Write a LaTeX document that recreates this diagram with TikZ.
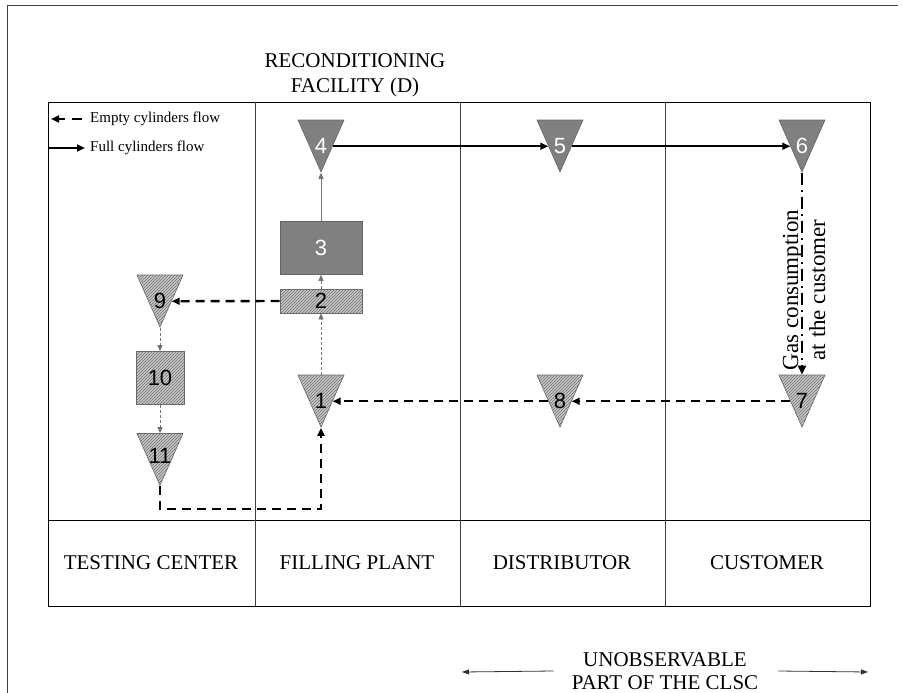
\documentclass[tikz,border=0pt]{standalone}
\usepackage{fontspec}
\setmainfont{Liberation Serif}
\newfontfamily\numfont{Liberation Sans}
\usetikzlibrary{positioning,shapes.geometric,arrows.meta,patterns}
\definecolor{ink}    {HTML}{000000}
\definecolor{darkbox}{HTML}{808080}
\definecolor{lightbox}{HTML}{C8C8C8}
\definecolor{hatch}  {HTML}{707070}
\definecolor{rule}   {HTML}{404040}
% number of a stock point, set lower in the triangle, box of no size
\newcommand\stocknum[1]{\raisebox{\dimexpr-\height/2-15pt\relax}[0pt][0pt]{#1}}
\tikzset{
  >=Triangle,
  % --- nodes
  stock/.style   = {isosceles triangle, isosceles triangle stretches,
                    shape border rotate=270, minimum width=46, minimum height=52,
                    inner sep=0pt, draw=ink!60, line width=0.6pt,
                    font=\numfont\fontsize{22}{24}\selectfont},
  fullstock/.style = {stock, fill=darkbox, text=white},
  emptystock/.style= {stock, fill=lightbox,
                      postaction={pattern=north east lines, pattern color=hatch}},
  proc/.style    = {rectangle, inner sep=0pt, draw=ink!60, line width=0.6pt,
                    font=\numfont\fontsize{22}{24}\selectfont},
  fullproc/.style  = {proc, fill=darkbox, text=white},
  emptyproc/.style = {proc, fill=lightbox,
                      postaction={pattern=north east lines, pattern color=hatch}},
  caps/.style    = {font=\fontsize{21}{24}\selectfont, align=center, inner sep=0pt},
  legend/.style  = {font=\fontsize{15}{18}\selectfont, anchor=west, inner sep=0pt},
  % --- edges
  full/.style    = {-{Triangle[length=8,width=7]}, line width=2.2pt, draw=ink},
  empty/.style   = {-{Triangle[length=8,width=7]}, line width=2.4pt, draw=ink,
                    dash pattern=on 9pt off 6pt},
  consume/.style = {-{Triangle[length=9,width=8]}, line width=2.6pt, draw=ink,
                    dash pattern=on 12pt off 5pt on 2pt off 5pt},
  minor/.style   = {-{Triangle[length=6,width=5]}, line width=0.9pt, draw=ink!55,
                    dash pattern=on 3pt off 2pt},
  thin/.style    = {-{Triangle[length=6,width=5]}, line width=0.9pt, draw=ink!55},
  span/.style    = {-{Triangle[length=7,width=5]}, line width=0.8pt, draw=ink!80},
}
\begin{document}
\begin{tikzpicture}[x=1pt,y=-1pt]
  \useasboundingbox (0,0) rectangle (903,693);
  % frame and table
  \draw[line width=0.8pt, draw=rule] (7,693) -- (7,5) -- (898,5);
  \draw[line width=0.7pt] (48,102) rectangle (870,606);
  \draw[line width=0.7pt] (48,520) -- (870,520);
  \foreach \x in {255,460,665}
    \draw[line width=0.7pt, draw=ink!75] (\x,102) -- (\x,606);

  \node[caps, font=\fontsize{21}{25}\selectfont] (recon) at (355,75) {RECONDITIONING\\FACILITY (D)};
  \node[caps] (testing) at (151,563) {TESTING CENTER};
  \node[caps] (filling) at (357,563) {FILLING PLANT};
  \node[caps] (distrib) at (562,563) {DISTRIBUTOR};
  \node[caps] (customer) at (767,563) {CUSTOMER};
  \node[caps, font=\fontsize{21}{23}\selectfont] (unobs) at (665,671) {UNOBSERVABLE\\PART OF THE CLSC};

  % legend
  \node[legend] (legempty) at (90,119) {Empty cylinders flow};
  \node[legend] (legfull)  at (90,148) {Full cylinders flow};
  \coordinate (emptytip) at (51,119);
  \coordinate (fulltail) at (48,148);
  \draw[empty, dash pattern=on 10pt off 7pt] ([xshift=-8pt]legempty.west) -- (emptytip);
  \draw[full] (fulltail) -- ([xshift=-5pt]legfull.west);

  % stock points and processes
  \node[fullstock]  (n4)  at (321,131) {\stocknum{4}};
  \node[fullstock]  (n5)  at (560,131) {\stocknum{5}};
  \node[fullstock]  (n6)  at (802,131) {\stocknum{6}};
  \node[fullproc, minimum width=82, minimum height=53]  (n3)  at (321,248) {3};
  \node[emptyproc, minimum width=82, minimum height=24] (n2)  at (321,301) {2};
  \node[emptystock] (n1)  at (321,386) {\stocknum{1}};
  \node[emptystock] (n8)  at (560,386) {\stocknum{8}};
  \node[emptystock] (n7)  at (802,386) {\stocknum{7}};
  \node[emptystock] (n9)  at (160,286) {\stocknum{9}};
  \node[emptyproc, minimum width=48, minimum height=53] (n10) at (160,378) {10};
  \node[emptystock] (n11) at (160,441) {\stocknum{11}};

  \node[rotate=90, align=center, inner sep=0pt, font=\fontsize{23}{27}\selectfont]
        (gas) at (804,290) {Gas consumption\\at the customer};

  % flows
  \draw[full] (n4.left side) -- (n5.right side);
  \draw[full] (n5.left side) -- (n6.right side);
  \draw[consume] (n6.apex) -- (n7.lower side);
  \draw[empty] (n7.right side) -- (n8.left side);
  \draw[empty] (n8.right side) -- (n1.left side);
  \draw[minor] (n1.lower side) -- (n2.south);
  \draw[minor] (n2.north) -- (n3.south);
  \draw[thin] (n3.north) -- (n4.apex);
  \draw[empty] (n2.west) -- (n9.left side);
  \draw[minor] (n9.apex) -- (n10.north);
  \draw[minor] (n10.south) -- (n11.lower side);
  \draw[empty] (n11.apex) -- ++(0,23) -| (n1.apex);

  % unobservable span
  \coordinate (spanleft)  at (462,672);
  \coordinate (spanright) at (868,672);
  \draw[span] ([xshift=-18pt]unobs.west) -- (spanleft);
  \draw[span] ([xshift=20pt]unobs.east) -- (spanright);
\end{tikzpicture}
\end{document}
